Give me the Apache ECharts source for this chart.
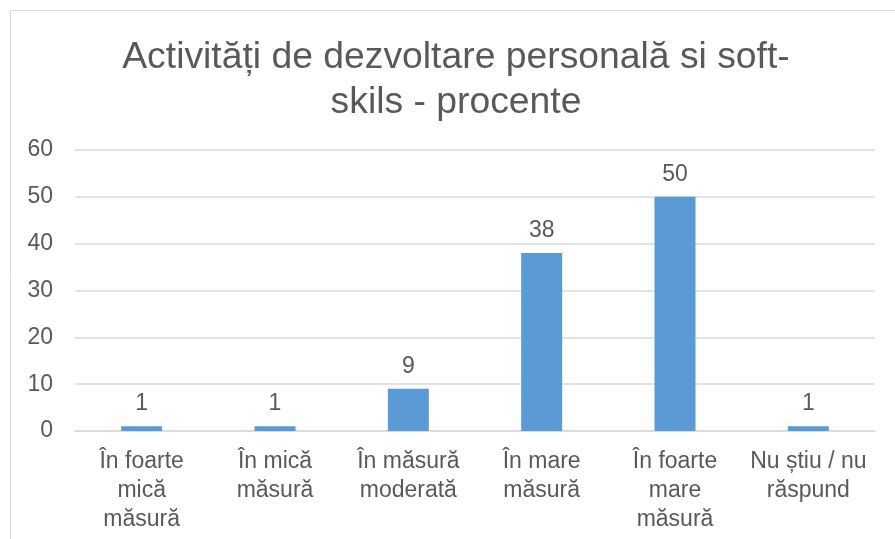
<!DOCTYPE html>
<html>
<head>
<meta charset="utf-8">
<script src="https://cdn.jsdelivr.net/npm/echarts@6/dist/echarts.min.js"></script>
<style>
  html, body { margin: 0; padding: 0; background: #fff; }
  #chart { width: 895px; height: 539px; }
</style>
</head>
<body>
<div id="chart"></div>
<script>
// Survey answers, in percent
const categories = [
  'În foarte\nmică\nmăsură',
  'În mică\nmăsură',
  'În măsură\nmoderată',
  'În mare\nmăsură',
  'În foarte\nmare\nmăsură',
  'Nu știu / nu\nrăspund'
];
const values = [1, 1, 9, 38, 50, 1];
const yTicks = [0, 10, 20, 30, 40, 50, 60];

const textColor = '#595959';
const font = '"Liberation Sans", Arial, sans-serif';

const chart = echarts.init(document.getElementById('chart'));
chart.setOption({
  animation: false,
  backgroundColor: '#ffffff',
  title: {
    text: 'Activități de dezvoltare personală si soft-\nskils - procente',
    left: 456,
    textAlign: 'center',
    top: 35,
    padding: 0,
    textStyle: {
      fontFamily: font,
      fontSize: 37.3,
      fontWeight: 'normal',
      color: textColor,
      lineHeight: 45
    }
  },
  graphic: [{
    type: 'rect',
    shape: { x: 10.5, y: 10.5, width: 1000, height: 1000 },
    style: { fill: 'none', stroke: '#D9D9D9', lineWidth: 1 },
    silent: true
  }],
  grid: { left: 75, right: 20, top: 150, bottom: 108 },
  xAxis: {
    type: 'category',
    data: categories,
    axisLine: { lineStyle: { color: '#D9D9D9', width: 1.5 } },
    axisTick: { show: false },
    axisLabel: {
      interval: 0,
      fontFamily: font,
      fontSize: 23,
      lineHeight: 29,
      color: textColor,
      margin: 16
    }
  },
  yAxis: {
    type: 'value',
    min: yTicks[0],
    max: yTicks[yTicks.length - 1],
    interval: 10,
    axisLine: { show: false },
    axisTick: { show: false },
    splitLine: { lineStyle: { color: '#D9D9D9', width: 1.5 } },
    axisLabel: {
      fontFamily: font,
      fontSize: 23,
      color: textColor,
      margin: 22
    }
  },
  series: [{
    type: 'bar',
    data: values,
    barWidth: 41,
    itemStyle: { color: '#5B9BD5' },
    label: {
      show: true,
      position: 'top',
      distance: 11,
      fontFamily: font,
      fontSize: 23,
      color: textColor
    }
  }]
});
</script>
</body>
</html>
